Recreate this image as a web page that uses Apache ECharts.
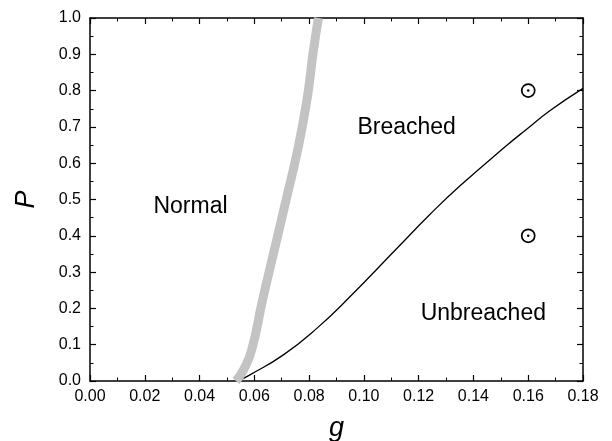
<!DOCTYPE html>
<html>
<head>
<meta charset="utf-8">
<script src="https://cdn.jsdelivr.net/npm/echarts@6/dist/echarts.min.js"></script>
<style>
  html, body { margin: 0; padding: 0; background: #fff; }
  #main { width: 612px; height: 441px; }
</style>
</head>
<body>
<div id="main"></div>
<script>
var chart = echarts.init(document.getElementById('main'));

// gray boundary (Normal / Breached)
var grayG = [0.0533, 0.0560, 0.0590, 0.0630, 0.0673, 0.0716, 0.0758, 0.0792, 0.0816, 0.0834];
var grayP = [0, 0.03, 0.085, 0.223, 0.361, 0.499, 0.636, 0.774, 0.912, 1.0];

// black boundary (Breached / Unbreached)
var blackG = [0.054, 0.0584, 0.0706, 0.0828, 0.0949, 0.112, 0.124, 0.135, 0.152, 0.16, 0.168, 0.18];
var blackP = [0, 0.017, 0.072, 0.145, 0.232, 0.365, 0.458, 0.537, 0.648, 0.697, 0.745, 0.806];

// measured points
var ptG = [0.16, 0.16];
var ptP = [0.8, 0.4];

// region labels
var regionNames = ['Normal', 'Breached', 'Unbreached'];
var regionG = [0.0367, 0.1156, 0.1436];
var regionP = [0.479, 0.697, 0.185];

function zip(a, b) {
  return a.map(function (v, i) { return [v, b[i]]; });
}

var font = 'Liberation Sans, Arial, sans-serif';

function axisBase(extra) {
  var o = {
    axisLine: { show: true, onZero: false, lineStyle: { color: '#000', width: 1.5 } },
    axisTick: { show: true, inside: true, length: 6, lineStyle: { color: '#000', width: 1.2 } },
    minorTick: { show: true, splitNumber: 2, length: 3.5, lineStyle: { color: '#000', width: 1 } },
    splitLine: { show: false },
    minorSplitLine: { show: false }
  };
  for (var k in extra) o[k] = extra[k];
  return o;
}

var option = {
  backgroundColor: '#fff',
  animation: false,
  grid: { left: 90, right: 29, top: 18, bottom: 60, containLabel: false, outerBoundsMode: 'none' },
  xAxis: [
    axisBase({
      type: 'value', min: 0, max: 0.18, interval: 0.02, position: 'bottom',
      name: 'g', nameLocation: 'middle', nameGap: 34,
      nameTextStyle: { fontFamily: font, fontStyle: 'italic', fontSize: 27, color: '#000' },
      axisLabel: { color: '#000', fontFamily: font, fontSize: 16, margin: 8,
        formatter: function (v) { return v.toFixed(2); } }
    }),
    axisBase({
      type: 'value', min: 0, max: 0.18, interval: 0.02, position: 'top',
      axisLabel: { show: false }
    })
  ],
  yAxis: [
    axisBase({
      type: 'value', min: 0, max: 1, interval: 0.1, position: 'left',
      name: 'P', nameLocation: 'middle', nameGap: 50, nameRotate: 90,
      nameTextStyle: { fontFamily: font, fontStyle: 'italic', fontSize: 27, color: '#000' },
      axisLabel: { color: '#000', fontFamily: font, fontSize: 16, margin: 9,
        formatter: function (v) { return v.toFixed(1); } }
    }),
    axisBase({
      type: 'value', min: 0, max: 1, interval: 0.1, position: 'right',
      axisLabel: { show: false }
    })
  ],
  series: [
    {
      type: 'line',
      data: zip(blackG, blackP),
      smooth: 0.5,
      symbol: 'none',
      clip: true,
      lineStyle: { color: '#000', width: 1.3 },
      z: 2
    },
    {
      type: 'line',
      data: zip(grayG, grayP),
      smooth: 0.5,
      symbol: 'none',
      clip: true,
      lineStyle: { color: '#c3c3c3', width: 9 },
      z: 3
    },
    {
      type: 'scatter',
      data: zip(ptG, ptP),
      symbol: 'circle',
      symbolSize: 13,
      itemStyle: { color: 'rgba(0,0,0,0)', borderColor: '#000', borderWidth: 1.7, opacity: 1 },
      z: 4
    },
    {
      type: 'scatter',
      data: zip(ptG, ptP),
      symbol: 'circle',
      symbolSize: 2.5,
      itemStyle: { color: '#000', opacity: 1 },
      z: 5
    },
    {
      type: 'scatter',
      data: regionNames.map(function (n, i) { return { name: n, value: [regionG[i], regionP[i]] }; }),
      symbolSize: 0,
      silent: true,
      itemStyle: { opacity: 1 },
      label: {
        show: true, position: 'inside', formatter: '{b}', opacity: 1,
        color: '#000', textBorderWidth: 0, fontFamily: font, fontSize: 23
      },
      z: 6
    }
  ]
};

chart.setOption(option);
</script>
</body>
</html>
